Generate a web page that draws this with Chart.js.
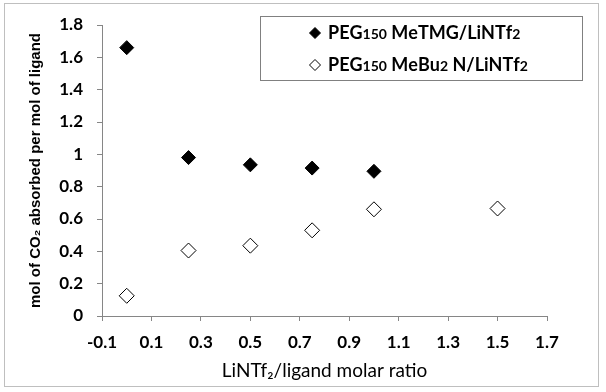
<!DOCTYPE html>
<html>
<head>
<meta charset="utf-8">
<script src="https://cdn.jsdelivr.net/npm/chart.js@4.4.0/dist/chart.umd.min.js"></script>
<style>
  html, body { margin: 0; padding: 0; background: #fff; }
  #wrap { width: 606px; height: 392px; }
</style>
</head>
<body>
<div id="wrap"><canvas id="co2Chart" width="606" height="392"></canvas></div>
<script>
// values
const ratioMeTMG = [0, 0.25, 0.5, 0.75, 1.0];
const co2MeTMG = [1.66, 0.98, 0.935, 0.915, 0.895];
const ratioMeBu2N = [0, 0.25, 0.5, 0.75, 1.0, 1.5];
const co2MeBu2N = [0.125, 0.405, 0.435, 0.53, 0.66, 0.665];

const xTickValues = [-0.1, 0.1, 0.3, 0.5, 0.7, 0.9, 1.1, 1.3, 1.5, 1.7];
const yTickValues = [0, 0.2, 0.4, 0.6, 0.8, 1, 1.2, 1.4, 1.6, 1.8];

const labelMeTMG = 'PEG₁₅₀ MeTMG/LiNTf₂';
const labelMeBu2N = 'PEG₁₅₀ MeBu₂ N/LiNTf₂';

const FONT = "Lato, 'Open Sans', sans-serif";
const SUBS = '₀₁₂₃₄₅₆₇₈₉';

function toPoints(xs, ys) {
    return xs.map((x, i) => ({x: x, y: ys[i]}));
}

// draws text where unicode subscript digits become small normal digits
function drawRich(ctx, text, x, y, size) {
    let cx = x;
    for (const ch of text) {
        const k = SUBS.indexOf(ch);
        if (k >= 0) {
            ctx.font = 'bold ' + Math.round(size * 0.78) + 'px ' + FONT;
            ctx.fillText(String(k), cx, y + 1.5);
            cx += ctx.measureText(String(k)).width;
        } else {
            ctx.font = 'bold ' + size + 'px ' + FONT;
            ctx.fillText(ch, cx, y);
            cx += ctx.measureText(ch).width;
        }
    }
}

const framePlugin = {
    id: 'frame',
    beforeDraw(chart) {
        const ctx = chart.ctx;
        ctx.save();
        ctx.fillStyle = '#ffffff';
        ctx.fillRect(0, 0, chart.width, chart.height);
        ctx.strokeStyle = '#bfbfbf';
        ctx.lineWidth = 1;
        ctx.strokeRect(4.5, 3.5, 594, 383);
        ctx.restore();
    }
};

// legend box sits inside the plot, like the Excel original
const boxLegend = {
    id: 'boxLegend',
    afterDatasetsDraw(chart) {
        const ctx = chart.ctx;
        ctx.save();
        ctx.fillStyle = '#ffffff';
        ctx.fillRect(260, 16, 322, 64);
        ctx.strokeStyle = '#808080';
        ctx.lineWidth = 1;
        ctx.strokeRect(260.5, 16.5, 322, 64);
        const rows = [33, 65];
        chart.data.datasets.forEach((ds, i) => {
            const y = rows[i];
            const mx = 315, r = 5.5;
            ctx.fillStyle = ds.pointBackgroundColor;
            ctx.strokeStyle = ds.pointBorderColor;
            ctx.lineWidth = 1;
            ctx.beginPath();
            ctx.moveTo(mx, y - r);
            ctx.lineTo(mx + r, y);
            ctx.lineTo(mx, y + r);
            ctx.lineTo(mx - r, y);
            ctx.closePath();
            ctx.fill();
            ctx.stroke();
            ctx.fillStyle = '#000000';
            ctx.textBaseline = 'middle';
            ctx.textAlign = 'left';
            drawRich(ctx, ds.label, 328, y, 18);
        });
        ctx.restore();
    }
};

const ctx = document.getElementById('co2Chart').getContext('2d');
const co2Chart = new Chart(ctx, {
    type: 'scatter',
    data: {
        datasets: [
            {
                label: labelMeTMG,
                data: toPoints(ratioMeTMG, co2MeTMG),
                pointStyle: 'rectRot',
                pointRadius: 7,
                pointHoverRadius: 7,
                pointBackgroundColor: '#000000',
                pointBorderColor: '#000000',
                pointBorderWidth: 1
            },
            {
                label: labelMeBu2N,
                data: toPoints(ratioMeBu2N, co2MeBu2N),
                pointStyle: 'rectRot',
                pointRadius: 7.5,
                pointHoverRadius: 7.5,
                pointBackgroundColor: '#ffffff',
                pointBorderColor: '#000000',
                pointBorderWidth: 1
            }
        ]
    },
    options: {
        responsive: false,
        animation: false,
        layout: {
            padding: {top: 25, right: 59, left: 0, bottom: 0}
        },
        plugins: {
            legend: {display: false},
            tooltip: {enabled: false}
        },
        scales: {
            x: {
                type: 'linear',
                min: -0.1,
                max: 1.7,
                afterBuildTicks: (scale) => {
                    scale.ticks = xTickValues.map(v => ({value: v}));
                },
                afterFit: (scale) => { scale.height = 76; },
                grid: {
                    drawOnChartArea: false,
                    drawTicks: true,
                    tickLength: 5,
                    color: '#868686'
                },
                border: {color: '#868686'},
                ticks: {
                    color: '#000000',
                    padding: 11,
                    maxRotation: 0,
                    autoSkip: false,
                    font: {size: 17, weight: 'bold', family: FONT},
                    callback: (v) => String(+Number(v).toFixed(1))
                },
                title: {
                    display: true,
                    text: 'LiNTf₂/ligand molar ratio',
                    color: '#000000',
                    font: {size: 19, family: FONT},
                    padding: {top: 0, bottom: 10}
                }
            },
            y: {
                type: 'linear',
                min: 0,
                max: 1.8,
                afterBuildTicks: (scale) => {
                    scale.ticks = yTickValues.map(v => ({value: v}));
                },
                afterFit: (scale) => { scale.width = 102; },
                grid: {
                    drawOnChartArea: false,
                    drawTicks: true,
                    tickLength: 5,
                    color: '#868686'
                },
                border: {color: '#868686'},
                ticks: {
                    color: '#000000',
                    padding: 14,
                    autoSkip: false,
                    font: {size: 17, weight: 'bold', family: FONT},
                    callback: (v) => String(+Number(v).toFixed(1))
                },
                title: {
                    display: true,
                    text: 'mol of CO₂ absorbed per mol of ligand',
                    color: '#000000',
                    font: {size: 15, weight: 'bold', family: "'Liberation Sans', Arial, sans-serif"},
                    padding: {top: 27, bottom: 0}
                }
            }
        }
    },
    plugins: [framePlugin, boxLegend]
});
</script>
</body>
</html>
